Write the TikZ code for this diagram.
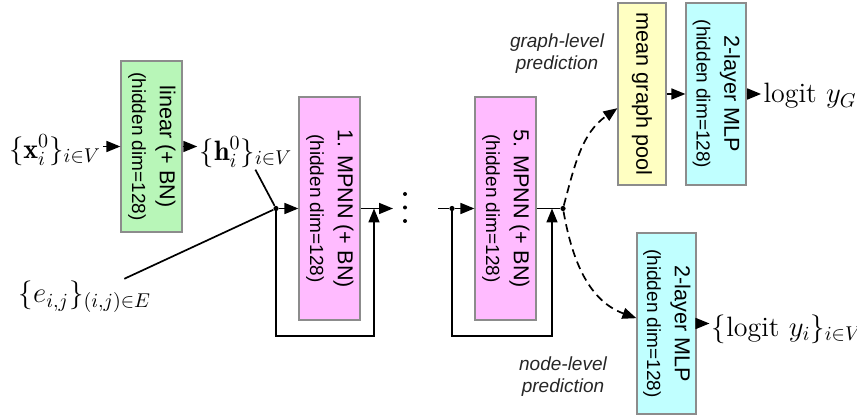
\documentclass[tikz,border=0pt]{standalone}
\usepackage{fontspec}
\usepackage{graphicx}
\newfontfamily\helv{Liberation Sans}
\usetikzlibrary{arrows.meta}
\definecolor{lingreen}{RGB}{184,246,184}
\definecolor{mppink}{RGB}{255,187,255}
\definecolor{poolyellow}{RGB}{255,255,194}
\definecolor{mlpcyan}{RGB}{192,255,255}
\newcommand{\blocktext}[2]{\rotatebox{-90}{\begin{tabular}{@{}c@{}}#1\\\fontsize{9.5}{11}\selectfont #2\end{tabular}}}
\begin{document}
\begin{tikzpicture}[x=0.5pt,y=0.5pt,
    block/.style={draw=black!45,line width=0.6pt,inner sep=0pt,font=\helv\fontsize{10.8}{13.8}\selectfont},
    line/.style={line width=0.85pt},
    conn/.style={line width=0.85pt,-{Triangle[length=7pt,width=5.5pt]}},
    jdot/.style={circle,fill,inner sep=0pt,minimum size=2.6pt},
    lbl/.style={inner sep=1pt,font=\fontsize{14}{17}\selectfont},
    note/.style={align=center,text=black!85,font=\helv\itshape\fontsize{9.5}{11}\selectfont}]
  \useasboundingbox (0,0) rectangle (857,-416);

  % inputs and encoder
  \node[lbl] (x0) at (55,-150) {$\{\mathbf{x}_i^0\}_{i\in V}$};
  \node[block,fill=lingreen,minimum width=30.5pt,minimum height=85.5pt] (lin) at (151.5,-146.5) {\blocktext{linear (+ BN)}{(hidden dim=128)}};
  \node[lbl] (h0) at (246,-152) {$\{\mathbf{h}_i^0\}_{i\in V}$};
  \node[lbl] (e) at (85,-297) {$\{e_{i,j}\}_{(i,j)\in E}$};

  % message passing layers
  \node[block,fill=mppink,minimum width=30.5pt,minimum height=111.5pt] (mp-1) at (329.5,-208.5) {\blocktext{1. MPNN (+ BN)}{(hidden dim=128)}};
  \node[block,fill=mppink,minimum width=30.5pt,minimum height=111.5pt] (mp-5) at (505.5,-208.5) {\blocktext{5. MPNN (+ BN)}{(hidden dim=128)}};

  % heads
  \node[block,fill=poolyellow,minimum width=24pt,minimum height=91pt] (pool) at (642,-94) {\rotatebox{-90}{mean graph pool}};
  \node[block,fill=mlpcyan,minimum width=30pt,minimum height=91pt] (mlp-g) at (716,-94) {\blocktext{2-layer MLP}{(hidden dim=128)}};
  \node[block,fill=mlpcyan,minimum width=29.5pt,minimum height=90.5pt] (mlp-n) at (666.5,-323.5) {\blocktext{2-layer MLP}{(hidden dim=128)}};
  \node[lbl] (out-g) at (810,-96) {$\mathrm{logit}\ y_G$};
  \node[lbl] (out-n) at (787,-329) {$\{\mathrm{logit}\ y_i\}_{i\in V}$};

  \node[note] (gl) at (557,-54) {graph-level\\prediction};
  \node[note] (nl) at (563,-377) {node-level\\prediction};

  % junctions
  \node[jdot] (j-1) at (276,-208.5) {};
  \node[jdot] (j-5) at (452,-208.5) {};
  \node[jdot] (j-6) at (563,-208.5) {};
  \coordinate (o-1) at (393,-208.5);
  \coordinate (i-5) at (438,-208.5);
  \coordinate (s-1) at (374,-208.5);
  \coordinate (s-5) at (552,-208.5);

  \foreach \k in {-1,0,1}
    \fill (405,-207.5+\k*13.5) circle (1pt);

  \draw[conn] (x0.east |- lin) -- (lin.west);
  \draw[conn] (lin.east) -- (h0.west |- lin);

  \path (h0) edge[line] (j-1);
  \path (e) edge[line] (j-1);
  \path (j-1) edge[conn] (mp-1);
  \path (mp-1) edge[conn] (o-1);
  \draw[conn] (j-1) -- ++(0,-127.5) -| (s-1);

  \path (i-5) edge[line] (j-5);
  \path (j-5) edge[conn] (mp-5);
  \draw[conn] (j-5) -- ++(0,-127.5) -| (s-5);
  \path (mp-5) edge[line] (j-6);

  \draw[conn,dash pattern=on 4pt off 2.5pt] (j-6) to[out=75,in=-145] (pool.210);
  \draw[conn,dash pattern=on 4pt off 2.5pt] (j-6) to[out=-80,in=160] (mlp-n.170);

  \path (pool) edge[conn] (mlp-g);
  \draw[conn] (mlp-g.east) -- (out-g.west |- mlp-g);
  \draw[conn] (mlp-n.east) -- (out-n.west |- mlp-n);
\end{tikzpicture}
\end{document}
